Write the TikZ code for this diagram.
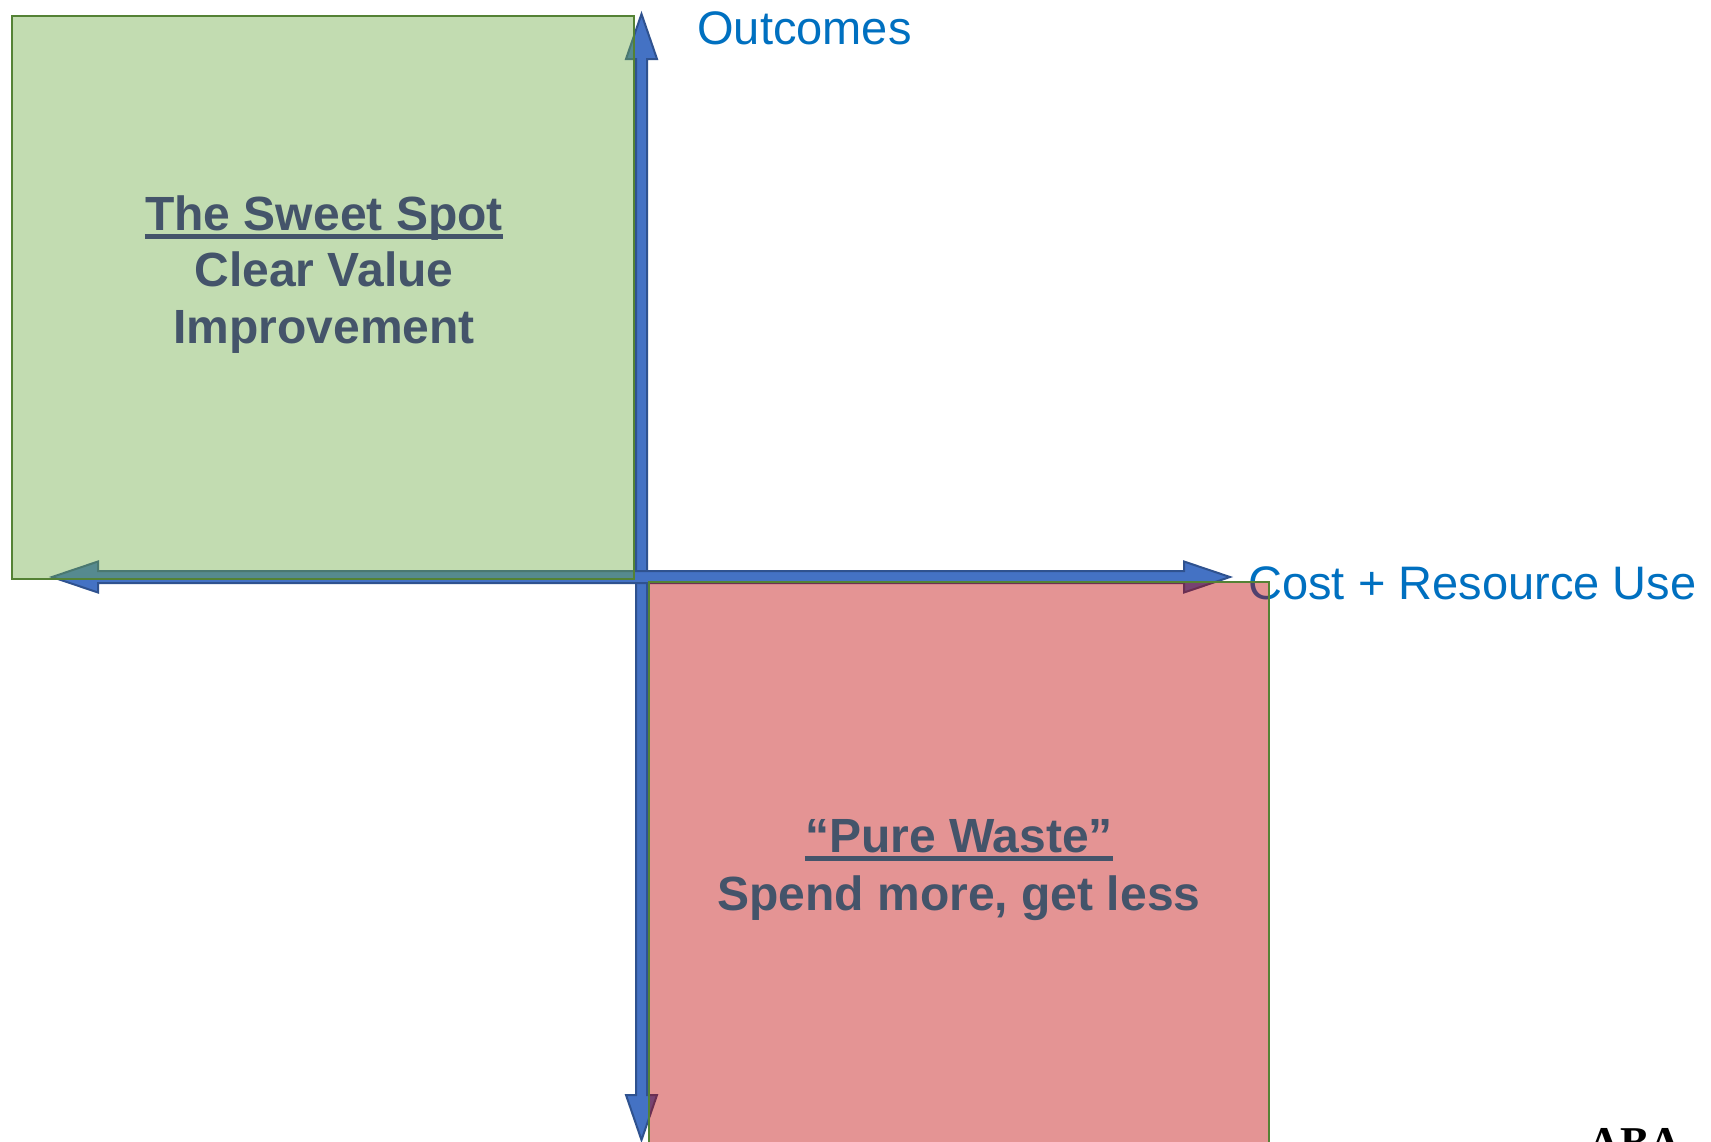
\documentclass[tikz,border=0pt]{standalone}
\usepackage{fontspec}
\setmainfont{Liberation Sans}
\newfontfamily\logofont{Liberation Serif}
\usetikzlibrary{calc}
\definecolor{axisblue}{HTML}{4472C4}
\definecolor{axisedge}{HTML}{2F528F}
\definecolor{labelblue}{HTML}{0070C0}
\definecolor{boxgreen}{HTML}{70AD47}
\definecolor{boxred}{HTML}{C00000}
\definecolor{boxedge}{HTML}{548235}
\definecolor{slate}{HTML}{44546A}
\tikzset{
  blockarrow/.style={fill=axisblue, draw=axisedge, line width=1pt, line join=miter},
  axislabel/.style={inner sep=0pt, text=labelblue, font=\fontsize{23.5pt}{28pt}\selectfont},
  quadbox/.style={draw=boxedge, line width=1.2pt, fill opacity=0.42},
  quadtext/.style={inner sep=0pt, text=slate, font=\fontsize{24pt}{28pt}\selectfont\bfseries},
  uline/.style={draw=slate, line width=2.5pt}
}
\begin{document}
\begin{tikzpicture}[x=0.5pt,y=-0.5pt]
\useasboundingbox (0,0) rectangle (1711,1141);
\clip (0,0) rectangle (1711,1141);
\fill[white] (0,0) rectangle (1711,1141);

% axis end points
\coordinate (vtop) at (641.5,14);
\coordinate (vbot) at (641.5,1140);
\coordinate (hleft) at (52,577);
\coordinate (hright) at (1230,577);

% vertical double arrow
\draw[blockarrow] (vtop) -- ($(vtop)+(15.5,45)$) -- ($(vtop)+(5.5,45)$)
  -- ($(vbot)+(5.5,-45)$) -- ($(vbot)+(15.5,-45)$) -- (vbot)
  -- ($(vbot)+(-15.5,-45)$) -- ($(vbot)+(-5.5,-45)$)
  -- ($(vtop)+(-5.5,45)$) -- ($(vtop)+(-15.5,45)$) -- cycle;
% horizontal double arrow
\draw[blockarrow] (hleft) -- ($(hleft)+(46,-15.5)$) -- ($(hleft)+(46,-6)$)
  -- ($(hright)+(-46,-6)$) -- ($(hright)+(-46,-15.5)$) -- (hright)
  -- ($(hright)+(-46,15.5)$) -- ($(hright)+(-46,6)$)
  -- ($(hleft)+(46,6)$) -- ($(hleft)+(46,15.5)$) -- cycle;

% axis labels
\node[axislabel, anchor=base west] (outcomes) at (697,44) {Outcomes};
\node[axislabel, anchor=base west] (cost) at (1248,599) {Cost + Resource Use};

% quadrant boxes
\path[quadbox, fill=boxgreen] (12,16) rectangle (634,579);
\path[quadbox, fill=boxred] (649,582) rectangle (1269,1160);

% sweet spot text
\node[quadtext, anchor=base] (sweet1) at (324,230) {The Sweet Spot};
\node[quadtext, anchor=base] (sweet2) at (324,286) {Clear Value};
\node[quadtext, anchor=base] (sweet3) at (324,343) {Improvement};
\draw[uline] ($(sweet1.base west)+(0,6.5)$) -- ($(sweet1.base east)+(0,6.5)$);

% pure waste text
\node[quadtext, anchor=base] (waste1) at (959,852) {“Pure Waste”};
\node[quadtext, anchor=base] (waste2) at (959,910) {Spend more, get less};
\draw[uline] ($(waste1.base west)+(0,6.5)$) -- ($(waste1.base east)+(0,6.5)$);

% cut-off logo text
\node[inner sep=0pt, anchor=north west, font=\logofont\bfseries\fontsize{22pt}{24pt}\selectfont] (logo) at (1588,1128) {ABA};
\end{tikzpicture}
\end{document}
